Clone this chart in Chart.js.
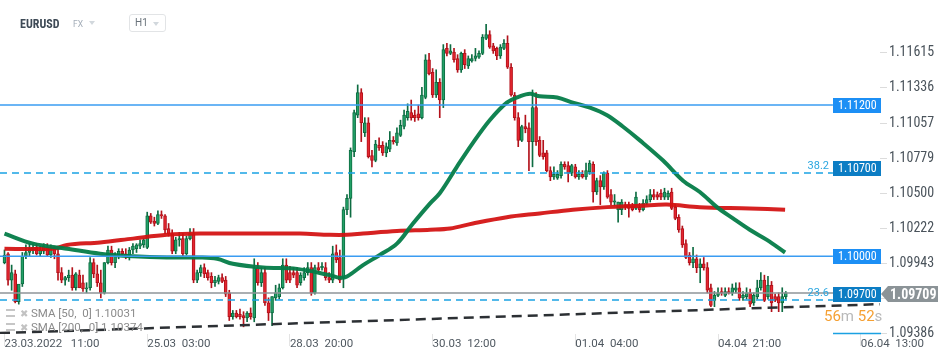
<!doctype html>
<html lang="en">
<head>
<meta charset="utf-8">
<title>EURUSD H1</title>
<script src="https://cdn.jsdelivr.net/npm/chart.js@4.4.1/dist/chart.umd.min.js"></script>
<style>
  html, body { margin: 0; padding: 0; background: #fff; }
  #wrap { position: relative; width: 950px; height: 360px; font-family: Roboto, sans-serif; }
  #hdr-sym { position: absolute; left: 20px; top: 17px; font-family: 'Roboto Condensed', Roboto; font-size: 12px; font-weight: 700; color: #3e4a56; }
  #hdr-fx { position: absolute; left: 73px; top: 19px; font-size: 8.5px; color: #a3adb8; }
  .tri { position: absolute; width: 0; height: 0; border-left: 3.5px solid transparent; border-right: 3.5px solid transparent; border-top: 4px solid #d2d8dd; }
  #hdr-tf { position: absolute; left: 129px; top: 14px; width: 35px; height: 16px; border: 1px solid #e2e4e6; border-radius: 3px; }
  #hdr-tf span { position: absolute; left: 5px; top: 2px; font-size: 10px; color: #6a737b; }
  .leg { position: absolute; left: 6px; font-size: 11.5px; color: #8b8b8b; white-space: pre; }
  .leg .ic { display: inline-block; width: 9px; height: 8px; border-top: 2px solid #c6c6c6; border-bottom: 2px solid #c6c6c6; box-sizing: border-box; margin-right: 5px; vertical-align: 0px; }
  .leg .x { color: #c2c2c2; font-size: 10px; margin-right: 3px; }
</style>
</head>
<body>
<div id="wrap">
  <canvas id="eurusd" width="950" height="360"></canvas>
  <div id="hdr-sym">EURUSD</div>
  <div id="hdr-fx">FX</div>
  <div class="tri" style="left:89px;top:21px"></div>
  <div id="hdr-tf"><span>H1</span><div class="tri" style="left:23px;top:7px"></div></div>
  <div class="leg" style="top:306px"><span class="ic"></span><span class="x">✖</span>SMA [50,  0] 1.10031</div>
  <div class="leg" style="top:320px"><span class="ic"></span><span class="x">✖</span>SMA [200,  0] 1.10374</div>
</div>
<script>
// hourly candles, 23.03.2022 -> 05.04.2022
const opens = [
  1.0995,1.1002,1.0981,1.0986,1.0964,1.0978,1.1000,1.1003,1.1005,1.1007,
  1.1002,1.1004,1.1007,1.1001,1.1006,1.1002,1.0987,1.0981,1.0983,1.0985,
  1.0975,1.0985,1.0979,1.0974,1.0975,1.0995,1.0986,1.0979,1.0971,1.0995,
  1.1005,1.0995,1.1001,1.1004,1.1002,1.1000,1.1005,1.1006,1.1008,1.1009,
  1.1007,1.1032,1.1028,1.1026,1.1033,1.1032,1.1022,1.1018,1.1004,1.1013,
  1.1014,1.1002,1.1014,1.1018,1.0981,1.0987,1.0991,1.0987,1.0984,1.0979,
  1.0980,1.0983,1.0981,1.0971,1.0952,1.0955,1.0954,1.0953,1.0951,1.0955,
  1.0951,1.0991,1.0979,1.0987,1.0963,1.0955,1.0967,1.0968,1.0975,1.0993,
  1.0987,1.0987,1.0987,1.0979,1.0983,1.0987,1.0991,1.0971,1.0991,1.0991,
  1.0991,1.0983,1.0981,1.1003,1.0999,1.0983,1.1037,1.1046,1.1083,1.1112,
  1.1130,1.1098,1.1106,1.1080,1.1076,1.1088,1.1088,1.1082,1.1085,1.1092,
  1.1090,1.1096,1.1103,1.1110,1.1114,1.1112,1.1113,1.1110,1.1126,1.1156,
  1.1146,1.1128,1.1138,1.1124,1.1165,1.1161,1.1162,1.1157,1.1148,1.1161,
  1.1151,1.1155,1.1157,1.1158,1.1161,1.1173,1.1176,1.1167,1.1165,1.1159,
  1.1165,1.1169,1.1150,1.1128,1.1110,1.1092,1.1103,1.1102,1.1091,1.1118,
  1.1092,1.1082,1.1082,1.1068,1.1063,1.1062,1.1064,1.1073,1.1072,1.1066,
  1.1071,1.1063,1.1065,1.1063,1.1067,1.1073,1.1051,1.1060,1.1055,1.1066,
  1.1049,1.1043,1.1037,1.1037,1.1041,1.1041,1.1040,1.1038,1.1039,1.1037,
  1.1042,1.1045,1.1049,1.1049,1.1050,1.1047,1.1047,1.1051,1.1039,1.1031,
  1.1022,1.1010,1.1001,1.0995,1.0998,1.0991,1.0994,1.0991,1.0975,1.0965,
  1.0969,1.0972,1.0969,1.0972,1.0971,1.0973,1.0975,1.0967,1.0968,1.0971,
  1.0963,1.0968,1.0975,1.0981,1.0968,1.0977,1.0968,1.0968,1.0963,1.0968
];
const highs = [
  1.1005,1.1003,1.0993,1.0989,1.0977,1.1003,1.1009,1.1010,1.1010,1.1010,
  1.1008,1.1010,1.1010,1.1009,1.1008,1.1006,1.0991,1.0984,1.0989,1.0991,
  1.0987,1.0989,1.0985,1.0979,1.0999,1.0998,1.0993,1.0989,1.0995,1.1008,
  1.1008,1.1003,1.1006,1.1006,1.1006,1.1007,1.1010,1.1010,1.1013,1.1014,
  1.1035,1.1034,1.1031,1.1036,1.1036,1.1033,1.1026,1.1021,1.1015,1.1019,
  1.1018,1.1016,1.1022,1.1022,1.0989,1.0993,1.0994,1.0989,1.0987,1.0984,
  1.0985,1.0986,1.0984,1.0973,1.0957,1.0957,1.0958,1.0956,1.0956,1.0959,
  1.0998,1.0995,1.0991,1.0991,1.0967,1.0968,1.0977,1.0978,1.0998,1.0998,
  1.0992,1.0991,1.0991,1.0987,1.0991,1.0995,1.0995,1.0993,1.0995,1.0995,
  1.0995,1.0987,1.1008,1.1009,1.1005,1.1039,1.1049,1.1086,1.1116,1.1136,
  1.1133,1.1110,1.1110,1.1084,1.1092,1.1094,1.1091,1.1090,1.1099,1.1095,
  1.1102,1.1108,1.1116,1.1121,1.1124,1.1116,1.1120,1.1134,1.1160,1.1161,
  1.1149,1.1148,1.1141,1.1168,1.1169,1.1168,1.1165,1.1160,1.1162,1.1164,
  1.1159,1.1160,1.1165,1.1163,1.1176,1.1184,1.1179,1.1169,1.1166,1.1168,
  1.1172,1.1175,1.1153,1.1130,1.1114,1.1104,1.1112,1.1106,1.1132,1.1130,
  1.1095,1.1092,1.1084,1.1071,1.1071,1.1068,1.1075,1.1075,1.1075,1.1073,
  1.1073,1.1068,1.1068,1.1074,1.1076,1.1075,1.1062,1.1064,1.1067,1.1068,
  1.1053,1.1049,1.1043,1.1045,1.1043,1.1043,1.1042,1.1051,1.1042,1.1045,
  1.1048,1.1053,1.1053,1.1051,1.1053,1.1054,1.1052,1.1054,1.1041,1.1033,
  1.1024,1.1013,1.1003,1.1007,1.1001,1.0998,1.0999,1.0995,1.0978,1.0972,
  1.0975,1.0975,1.0975,1.0975,1.0978,1.0979,1.0979,1.0972,1.0975,1.0974,
  1.0971,1.0981,1.0987,1.0985,1.0984,1.0980,1.0970,1.0971,1.0975,1.0972
];
const lows = [
  1.0994,1.0977,1.0973,1.0963,1.0962,1.0976,1.0998,1.1000,1.1002,1.1001,
  1.1000,1.1002,1.1000,1.0999,1.0998,1.0981,1.0979,1.0977,1.0980,1.0973,
  1.0973,1.0975,1.0972,1.0971,1.0973,1.0983,1.0976,1.0967,1.0970,1.0994,
  1.0993,1.0991,1.0998,1.1000,1.0998,1.0997,1.1002,1.1003,1.1006,1.1007,
  1.1006,1.1026,1.1024,1.1025,1.1030,1.1018,1.1016,1.1002,1.1002,1.1008,
  1.1000,1.1001,1.1013,1.0979,1.0979,1.0984,1.0983,1.0981,1.0975,1.0976,
  1.0978,1.0979,1.0968,1.0949,1.0950,1.0951,1.0950,1.0944,1.0948,1.0950,
  1.0948,1.0977,1.0976,1.0961,1.0949,1.0945,1.0965,1.0966,1.0974,1.0979,
  1.0979,1.0983,1.0975,1.0977,1.0981,1.0985,1.0969,1.0970,1.0987,1.0989,
  1.0981,1.0979,1.0979,1.0995,1.0979,1.0975,1.1033,1.1031,1.1079,1.1110,
  1.1091,1.1095,1.1078,1.1071,1.1075,1.1084,1.1080,1.1079,1.1083,1.1089,
  1.1088,1.1095,1.1101,1.1108,1.1108,1.1107,1.1108,1.1109,1.1125,1.1144,
  1.1126,1.1126,1.1110,1.1118,1.1159,1.1160,1.1154,1.1146,1.1146,1.1149,
  1.1149,1.1154,1.1155,1.1157,1.1160,1.1172,1.1165,1.1161,1.1156,1.1157,
  1.1164,1.1149,1.1127,1.1108,1.1087,1.1091,1.1098,1.1068,1.1071,1.1088,
  1.1079,1.1077,1.1067,1.1060,1.1061,1.1061,1.1062,1.1069,1.1059,1.1064,
  1.1062,1.1061,1.1062,1.1061,1.1065,1.1043,1.1049,1.1041,1.1053,1.1046,
  1.1041,1.1040,1.1027,1.1033,1.1037,1.1031,1.1036,1.1037,1.1035,1.1036,
  1.1041,1.1043,1.1045,1.1045,1.1045,1.1045,1.1045,1.1037,1.1029,1.1019,
  1.1007,1.0998,1.0993,1.0991,1.0987,1.0979,1.0989,1.0971,1.0960,1.0960,
  1.0968,1.0969,1.0968,1.0970,1.0969,1.0971,1.0965,1.0965,1.0966,1.0960,
  1.0961,1.0966,1.0973,1.0964,1.0966,1.0956,1.0964,1.0956,1.0956,1.0966
];
const closes = [
  1.1001,1.0981,1.0987,1.0964,1.0978,1.1000,1.1003,1.1006,1.1007,1.1002,
  1.1005,1.1008,1.1001,1.1006,1.1002,1.0987,1.0981,1.0983,1.0985,1.0975,
  1.0986,1.0975,1.0974,1.0975,1.0995,1.0986,1.0979,1.0971,1.0995,1.1005,
  1.0995,1.1001,1.1004,1.1002,1.1000,1.1005,1.1008,1.1009,1.1010,1.1013,
  1.1032,1.1027,1.1026,1.1033,1.1032,1.1021,1.1018,1.1004,1.1013,1.1014,
  1.1002,1.1014,1.1018,1.0981,1.0987,1.0991,1.0986,1.0983,1.0979,1.0981,
  1.0983,1.0980,1.0970,1.0952,1.0955,1.0952,1.0952,1.0951,1.0955,1.0952,
  1.0991,1.0979,1.0987,1.0963,1.0955,1.0968,1.0971,1.0975,1.0993,1.0981,
  1.0981,1.0985,1.0977,1.0985,1.0987,1.0991,1.0971,1.0991,1.0989,1.0992,
  1.0983,1.0981,1.1002,1.0997,1.0981,1.1037,1.1046,1.1084,1.1114,1.1130,
  1.1106,1.1106,1.1079,1.1076,1.1089,1.1086,1.1082,1.1087,1.1092,1.1091,
  1.1098,1.1104,1.1112,1.1115,1.1110,1.1110,1.1110,1.1128,1.1156,1.1145,
  1.1128,1.1138,1.1124,1.1164,1.1161,1.1163,1.1156,1.1148,1.1161,1.1152,
  1.1157,1.1157,1.1159,1.1161,1.1174,1.1176,1.1166,1.1163,1.1159,1.1166,
  1.1169,1.1150,1.1128,1.1110,1.1092,1.1103,1.1101,1.1091,1.1118,1.1091,
  1.1080,1.1079,1.1068,1.1063,1.1065,1.1065,1.1073,1.1071,1.1066,1.1072,
  1.1063,1.1065,1.1063,1.1068,1.1074,1.1051,1.1060,1.1055,1.1066,1.1047,
  1.1043,1.1044,1.1043,1.1043,1.1039,1.1038,1.1037,1.1047,1.1037,1.1042,
  1.1045,1.1049,1.1047,1.1047,1.1047,1.1051,1.1050,1.1038,1.1030,1.1021,
  1.1009,1.0999,1.0995,1.0998,1.0991,1.0994,1.0991,1.0973,1.0961,1.0969,
  1.0971,1.0971,1.0972,1.0971,1.0975,1.0975,1.0967,1.0969,1.0971,1.0962,
  1.0969,1.0975,1.0981,1.0965,1.0977,1.0963,1.0965,1.0963,1.0968,1.0971
];

// moving averages at these candle positions
const sma50At = [0, 8, 17.5, 26.8, 36, 45.5, 54.8, 59.6, 64, 72.5, 82, 91.2, 94, 96, 100.5, 105.2, 110, 114.5, 119.3, 122, 126.8, 131.3, 136, 140.8, 144.5, 147.3, 150, 154.9, 159.3, 164.1, 168.9, 173.3, 178.1, 184.6, 190.2, 194.9, 199.7, 204.2, 208.9, 213.7, 218.8];
const sma50 = [1.1018, 1.1010, 1.1006, 1.1002, 1.1000, 1.0999, 1.0999, 1.0998, 1.0994, 1.0991, 1.0990, 1.0985, 1.0983, 1.0984, 1.0993, 1.1001, 1.1010, 1.1026, 1.1042, 1.1050, 1.1071, 1.1090, 1.1108, 1.1122, 1.1127, 1.1129, 1.1127, 1.1126, 1.1122, 1.1118, 1.1112, 1.1103, 1.1092, 1.1076, 1.1060, 1.1051, 1.1039, 1.1030, 1.1021, 1.1013, 1.1003];
const sma200At = [0, 13.6, 17.5, 26.8, 36, 45.5, 54.8, 72.5, 82.8, 91.2, 96, 100.5, 110, 119.3, 124.9, 131.3, 140.8, 150, 159.3, 168.9, 178.1, 185.7, 194.9, 208.9, 218.8];
const sma200 = [1.1006, 1.1006, 1.1009, 1.1011, 1.1014, 1.1017, 1.1018, 1.1018, 1.1018, 1.1017, 1.1017, 1.1018, 1.1020, 1.1021, 1.1022, 1.1026, 1.1031, 1.1034, 1.1037, 1.1039, 1.1040, 1.1041, 1.1039, 1.1038, 1.1037];

// x axis labels (candle index where each label starts)
const tickAt = [0, 40, 80, 120, 160, 200, 240];
const tickLabels = ['23.03.2022   11:00', '25.03  03:00', '28.03  20:00', '30.03  12:00', '01.04  04:00', '04.04  21:00', '06.04  13:00'];
const priceTicks = [1.09386, 1.09664, 1.09943, 1.10222, 1.10500, 1.10779, 1.11057, 1.11336, 1.11615];

// drawn levels
const hLevels = [1.112, 1.1];
const boxLevels = [1.112, 1.107, 1.1, 1.097];
const boxColors = ['#1c8ff5', '#0c7dc4', '#1c8ff5', '#0c7dc4'];
const fibLevels = [1.10661, 1.09653];
const fibNames = ['38.2', '23.6'];
const fibBase = 1.09386;
const lastPrice = 1.09709;
const trendFrom = [-1.26, 1.0939];
const trendTo = [245.4, 1.0962];
const xMin = -1.26, xMax = 245.4, levelEnd = 232.2;
const yMin = 1.09383, yMax = 1.12034;
const countdown = [['56', '#f5a033'], ['m ', '#b9b9b9'], ['52', '#f5a033'], ['s', '#b9b9b9']];

const GREEN_FILL = '#22a066', GREEN_LINE = '#0d6c42';
const RED_FILL = '#e3262f', RED_LINE = '#b3121b';
const up = i => closes[i] >= opens[i];

const idx = closes.map((c, i) => i);

function hLine(v, x0, x1, color, width, dash) {
  return {
    type: 'line', data: [{x: x0, y: v}, {x: x1, y: v}],
    borderColor: color, borderWidth: width, borderDash: dash || [],
    pointRadius: 0, order: 0
  };
}

const overlay = {
  id: 'overlay',
  afterDatasetsDraw(chart) {
    const {ctx, chartArea} = chart;
    const x = chart.scales.x, y = chart.scales.y;
    const bx = Math.round(x.getPixelForValue(levelEnd));
    ctx.save();

    // fibonacci names
    ctx.font = '11px Roboto';
    ctx.fillStyle = '#2aa6e0';
    ctx.textAlign = 'right';
    ctx.textBaseline = 'alphabetic';
    fibLevels.forEach((v, k) => ctx.fillText(fibNames[k], bx - 4, y.getPixelForValue(v) - 4));

    // level boxes
    ctx.textAlign = 'left';
    ctx.textBaseline = 'middle';
    ctx.font = "12px 'Roboto Condensed'";
    boxLevels.forEach((v, k) => {
      const py = Math.round(y.getPixelForValue(v));
      ctx.fillStyle = boxColors[k];
      ctx.fillRect(bx, py - 7, 48, 15);
      ctx.fillStyle = '#fff';
      ctx.fillText(v.toFixed(5), bx + 5, py + 1);
    });
    ctx.strokeStyle = '#1ba1e2';
    ctx.lineWidth = 1.5;
    const pb = y.getPixelForValue(fibBase);
    ctx.beginPath(); ctx.moveTo(bx, pb); ctx.lineTo(bx + 48, pb); ctx.stroke();

    // last price tag
    const pp = Math.round(y.getPixelForValue(lastPrice)) + 1;
    const tx = chartArea.right + 1;
    ctx.fillStyle = '#8b9397';
    ctx.beginPath();
    ctx.moveTo(tx, pp);
    ctx.lineTo(tx + 7, pp - 8);
    ctx.lineTo(tx + 57, pp - 8);
    ctx.lineTo(tx + 57, pp + 8);
    ctx.lineTo(tx + 7, pp + 8);
    ctx.closePath();
    ctx.fill();
    ctx.fillStyle = '#fff';
    ctx.font = "bold 14px 'Roboto Condensed'";
    ctx.fillText(lastPrice.toFixed(5), tx + 9, pp + 1);

    // candle countdown
    ctx.font = '15px Roboto';
    ctx.textBaseline = 'alphabetic';
    let cx = bx - 9;
    countdown.forEach(([t, c]) => {
      ctx.fillStyle = c;
      ctx.fillText(t, cx, 321);
      cx += ctx.measureText(t).width;
    });
    ctx.restore();
  }
};

new Chart(document.getElementById('eurusd'), {
  type: 'bar',
  data: {
    datasets: [
      hLine(lastPrice, xMin, xMax, '#8e9599', 1.5),
      {
        type: 'line', label: 'trend',
        data: [{x: trendFrom[0], y: trendFrom[1]}, {x: trendTo[0], y: trendTo[1]}],
        borderColor: '#2c3034', borderWidth: 2.5, borderDash: [10, 6],
        pointRadius: 0, order: 0
      },
      ...hLevels.map(v => hLine(v, xMin, levelEnd, '#3a9cf2', 1.5)),
      ...fibLevels.map(v => hLine(v, xMin, levelEnd, '#1aa3e4', 1.3, [7, 5])),
      {
        type: 'line', label: 'SMA 50',
        data: sma50At.map((i, k) => ({x: i, y: sma50[k]})),
        borderColor: 'rgba(4, 124, 72, 0.95)', borderWidth: 4, tension: 0.35,
        pointRadius: 0, order: 0
      },
      {
        type: 'line', label: 'SMA 200',
        data: sma200At.map((i, k) => ({x: i, y: sma200[k]})),
        borderColor: 'rgba(211, 16, 16, 0.93)', borderWidth: 4, tension: 0.35,
        pointRadius: 0, order: 0
      },
      {
        label: 'body',
        data: idx.map(i => ({x: i, y: [opens[i], closes[i]]})),
        backgroundColor: c => up(c.dataIndex) ? GREEN_FILL : RED_FILL,
        borderColor: c => up(c.dataIndex) ? GREEN_LINE : RED_LINE,
        borderWidth: 1, borderSkipped: false, barThickness: 3, grouped: false,
        minBarLength: 1, order: 1
      },
      {
        label: 'wick',
        data: idx.map(i => ({x: i, y: [lows[i], highs[i]]})),
        backgroundColor: c => up(c.dataIndex) ? GREEN_LINE : RED_LINE,
        barThickness: 1, grouped: false, order: 2
      }
    ]
  },
  options: {
    responsive: false,
    animation: false,
    devicePixelRatio: 1,
    layout: { padding: 0 },
    plugins: { legend: { display: false }, tooltip: { enabled: false } },
    scales: {
      x: {
        type: 'linear', min: xMin, max: xMax, offset: false,
        afterBuildTicks: s => { s.ticks = tickAt.map(v => ({value: v})); },
        afterFit: s => { s.height = 26; s.paddingLeft = 0; s.paddingRight = 0; },
        ticks: {
          callback: v => { const k = tickAt.indexOf(v); return k >= 0 ? tickLabels[k] : ''; },
          align: 'start', maxRotation: 0, autoSkip: false, padding: -9,
          color: '#4f5860', font: { family: 'Roboto', size: 11.5 }
        },
        grid: { drawOnChartArea: false, offset: false, tickLength: 12, color: '#e4e4e4' },
        border: { display: false }
      },
      y: {
        type: 'linear', position: 'right', min: yMin, max: yMax,
        afterBuildTicks: s => { s.ticks = priceTicks.map(v => ({value: v})); },
        afterFit: s => { s.width = 70; s.paddingTop = 0; s.paddingBottom = 0; },
        ticks: {
          callback: v => v.toFixed(5), padding: 2,
          color: '#4a535b',
          font: { family: "'Roboto Condensed', Roboto", size: 14 }
        },
        grid: { drawOnChartArea: false, tickLength: 7, color: '#dcdcdc' },
        border: { display: false }
      }
    }
  },
  plugins: [overlay]
});
</script>
</body>
</html>
